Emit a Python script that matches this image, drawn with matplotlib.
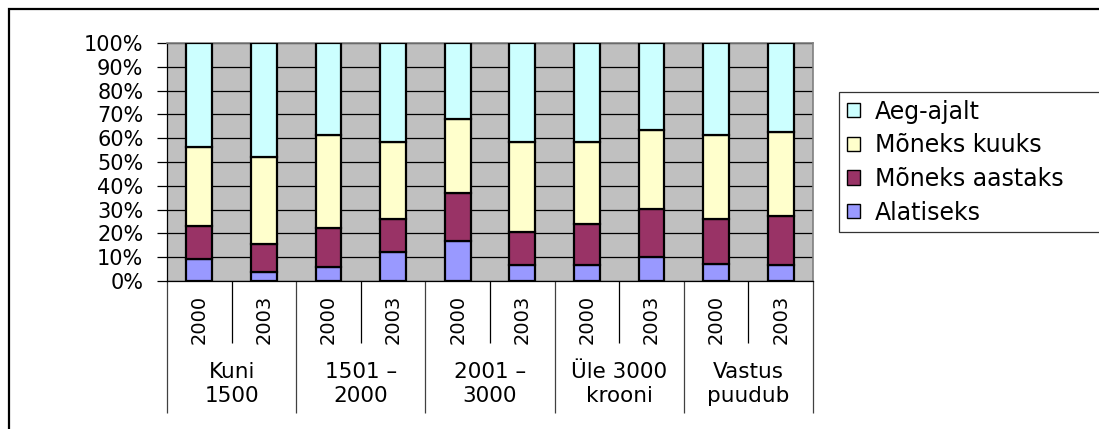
import matplotlib
matplotlib.use("Agg")
import matplotlib.pyplot as plt
import matplotlib.patches as mpatches
from matplotlib.transforms import blended_transform_factory
from matplotlib.ticker import FixedLocator, NullFormatter
import numpy as np

plt.rcParams['font.family'] = ['DejaVu Sans']

# ---- data ----
groups = ["Kuni\n1500", "1501 –\n2000", "2001 –\n3000", "Üle 3000\nkrooni", "Vastus\npuudub"]
years = ["2000", "2003"]
series_names = ["Alatiseks", "Mõneks aastaks", "Mõneks kuuks", "Aeg-ajalt"]
alatiseks = [9.3, 3.8, 5.9, 12.1, 17.0, 6.6, 6.6, 10.0, 7.3, 6.6]
moneks_aastaks = [13.7, 11.7, 16.4, 13.9, 19.9, 13.9, 17.3, 20.2, 18.7, 20.8]
moneks_kuuks = [33.3, 36.7, 38.9, 32.4, 31.2, 37.9, 34.5, 33.1, 35.2, 35.2]
aeg_ajalt = [43.7, 47.8, 38.8, 41.6, 31.9, 41.6, 41.6, 36.7, 38.8, 37.4]
colors = ["#9999FF", "#993366", "#FFFFCC", "#CCFFFF"]
yticks = [0, 10, 20, 30, 40, 50, 60, 70, 80, 90, 100]

W, H, DPI = 1099, 429, 100
fig = plt.figure(figsize=(W / DPI, H / DPI), dpi=DPI)
fig.patch.set_facecolor("white")

# outer chart frame (only top/left visible)
frame = mpatches.Rectangle((9 / W, -0.1), 1.2, (H - 9) / H + 0.1, transform=fig.transFigure,
                           fill=False, edgecolor="black", linewidth=1.6, zorder=0)
fig.patches.append(frame)

ax_l, ax_r, ax_t, ax_b = 167, 813, 43, 281
ax = fig.add_axes([ax_l / W, (H - ax_b) / H, (ax_r - ax_l) / W, (ax_b - ax_t) / H])
ax.set_facecolor("#C0C0C0")

n = len(alatiseks)
x = np.arange(n)
values = [alatiseks, moneks_aastaks, moneks_kuuks, aeg_ajalt]
bottom = np.zeros(n)
handles = []
for name, vals, col in zip(series_names, values, colors):
    b = ax.bar(x, vals, width=0.4, bottom=bottom, color=col, edgecolor="black",
               linewidth=1.6, label=name, zorder=3)
    handles.append(b)
    bottom += np.array(vals)

ax.set_xlim(-0.5, n - 0.5)
ax.set_ylim(0, 100)
ax.set_yticks(yticks)
ax.set_yticklabels([f"{v}%" for v in yticks], fontsize=15)
ax.yaxis.grid(True, color="black", linewidth=0.9, zorder=1)
ax.set_axisbelow(True)
ax.tick_params(axis="y", direction="out", length=7, width=0.9, pad=10, color="black")

# x axis: separators as ticks
major_pos = np.arange(-0.5, n, 2)
minor_pos = np.arange(0.5, n, 2)
ax.xaxis.set_major_locator(FixedLocator(major_pos))
ax.xaxis.set_minor_locator(FixedLocator(minor_pos))
ax.xaxis.set_major_formatter(NullFormatter())
ax.xaxis.set_minor_formatter(NullFormatter())
ax.tick_params(axis="x", which="major", direction="out", length=95, width=0.9, color="#404040")
ax.tick_params(axis="x", which="minor", direction="out", length=44.5, width=0.9, color="black")

for sp in ["left", "bottom"]:
    ax.spines[sp].set_color("black")
    ax.spines[sp].set_linewidth(0.9)
for sp in ["top", "right"]:
    ax.spines[sp].set_color("#808080")
    ax.spines[sp].set_linewidth(1.2)

trans = blended_transform_factory(ax.transData, ax.transAxes)
for i in range(n):
    ax.annotate(years[i % 2], xy=(x[i], 0), xycoords=trans, xytext=(0, -38),
                textcoords="offset pixels", ha="center", va="center",
                rotation=90, fontsize=14, annotation_clip=False)
for g, label in enumerate(groups):
    cx = (x[2 * g] + x[2 * g + 1]) / 2
    ax.annotate(label, xy=(cx, 0), xycoords=trans, xytext=(0, -103),
                textcoords="offset pixels", ha="center", va="center",
                fontsize=15.5, linespacing=1.3, annotation_clip=False)

# legend
lx0, ly0, lx1, ly1 = 839, 92, 1130, 230
leg = fig.legend(handles[::-1], series_names[::-1], loc="upper left",
                 bbox_to_anchor=(lx0 / W, (H - ly1) / H, (lx1 - lx0) / W, (ly1 - ly0) / H),
                 mode="expand", borderaxespad=0, fontsize=17, frameon=True,
                 fancybox=False, edgecolor="black", handlelength=0.55, handleheight=0.55,
                 handletextpad=0.65, borderpad=0.32, labelspacing=0.41)
leg.get_frame().set_linewidth(0.9)
for h in leg.legend_handles:
    h.set_linewidth(1.0)

fig.savefig("out.png", dpi=DPI, facecolor="white")
